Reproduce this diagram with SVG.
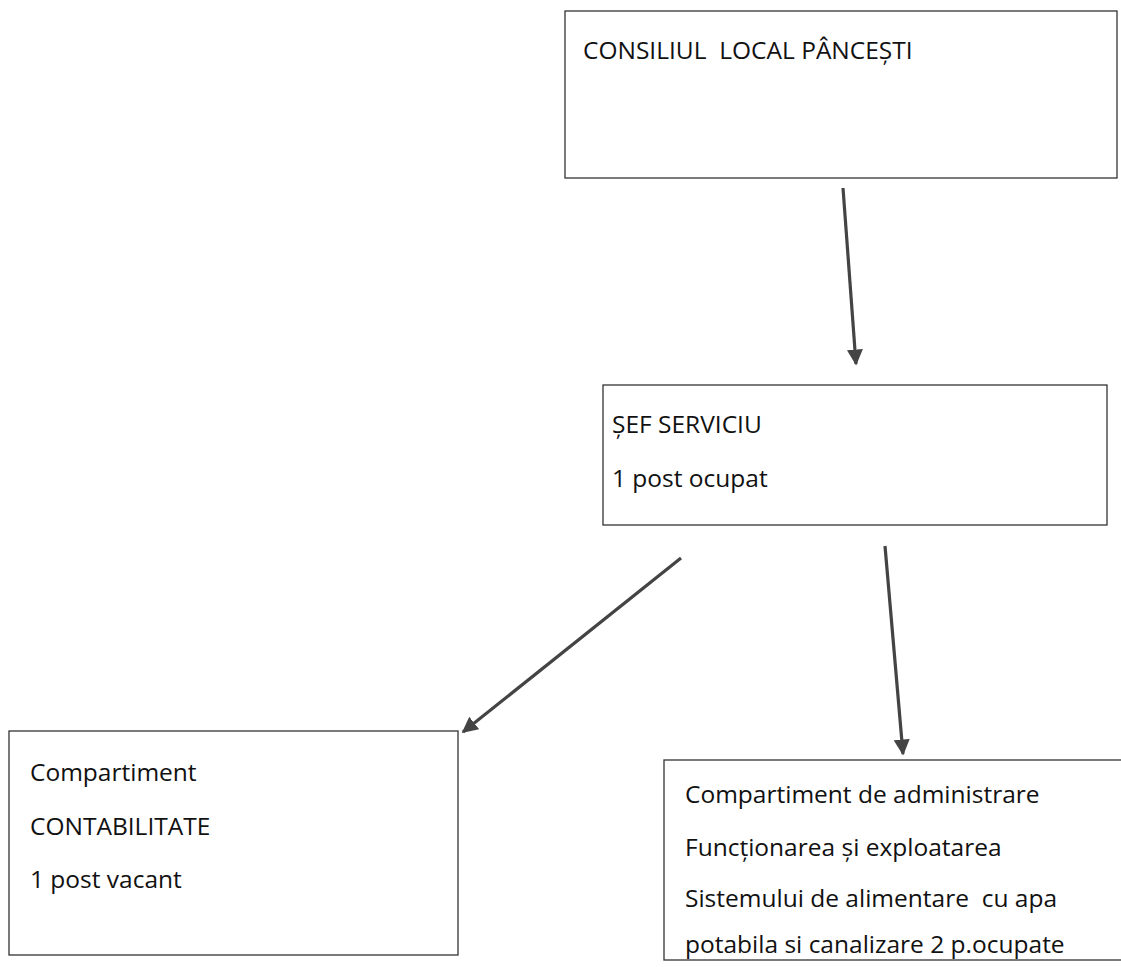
<svg xmlns="http://www.w3.org/2000/svg" width="1121" height="967" viewBox="0 0 1121 967">
<style>
.box{fill:#fff;stroke:#333;stroke-width:1.3}
.t{font-family:"Open Sans","Noto Sans","Liberation Sans",sans-serif;font-size:24.5px;fill:#111;white-space:pre}
.c{stroke:#444;stroke-width:3.2;fill:none}
</style>
<defs>
<marker id="ah" viewBox="0 0 10 10" refX="9" refY="5" markerWidth="5" markerHeight="5" markerUnits="strokeWidth" orient="auto">
<path d="M0,0 L10,5 L0,10 z" fill="#444"/>
</marker>
</defs>
<rect width="1121" height="967" fill="#fff"/>
<g id="n1">
<rect class="box" x="565" y="11" width="552" height="167"/>
<text class="t" x="583" y="59" xml:space="preserve">CONSILIUL  LOCAL PÂNCEȘTI</text>
</g>
<g id="n2">
<rect class="box" x="603" y="385" width="504" height="140"/>
<text class="t" x="612" y="433">ȘEF SERVICIU</text>
<text class="t" x="612" y="487">1 post ocupat</text>
</g>
<g id="n3">
<rect class="box" x="9" y="731" width="449" height="224"/>
<text class="t" x="30" y="781">Compartiment</text>
<text class="t" x="30" y="835">CONTABILITATE</text>
<text class="t" x="30" y="888">1 post vacant</text>
</g>
<g id="n4">
<rect class="box" x="664" y="760" width="470" height="200"/>
<text class="t" x="685" y="803">Compartiment de administrare</text>
<text class="t" x="685" y="856">Funcționarea și exploatarea</text>
<text class="t" x="685" y="907" xml:space="preserve">Sistemului de alimentare  cu apa</text>
<text class="t" x="685" y="953">potabila si canalizare 2 p.ocupate</text>
</g>
<g id="connectors">
<line class="c" x1="843" y1="188" x2="856" y2="364" marker-end="url(#ah)"/>
<line class="c" x1="681" y1="558" x2="463" y2="732" marker-end="url(#ah)"/>
<line class="c" x1="885" y1="546" x2="903" y2="754" marker-end="url(#ah)"/>
</g>
</svg>
